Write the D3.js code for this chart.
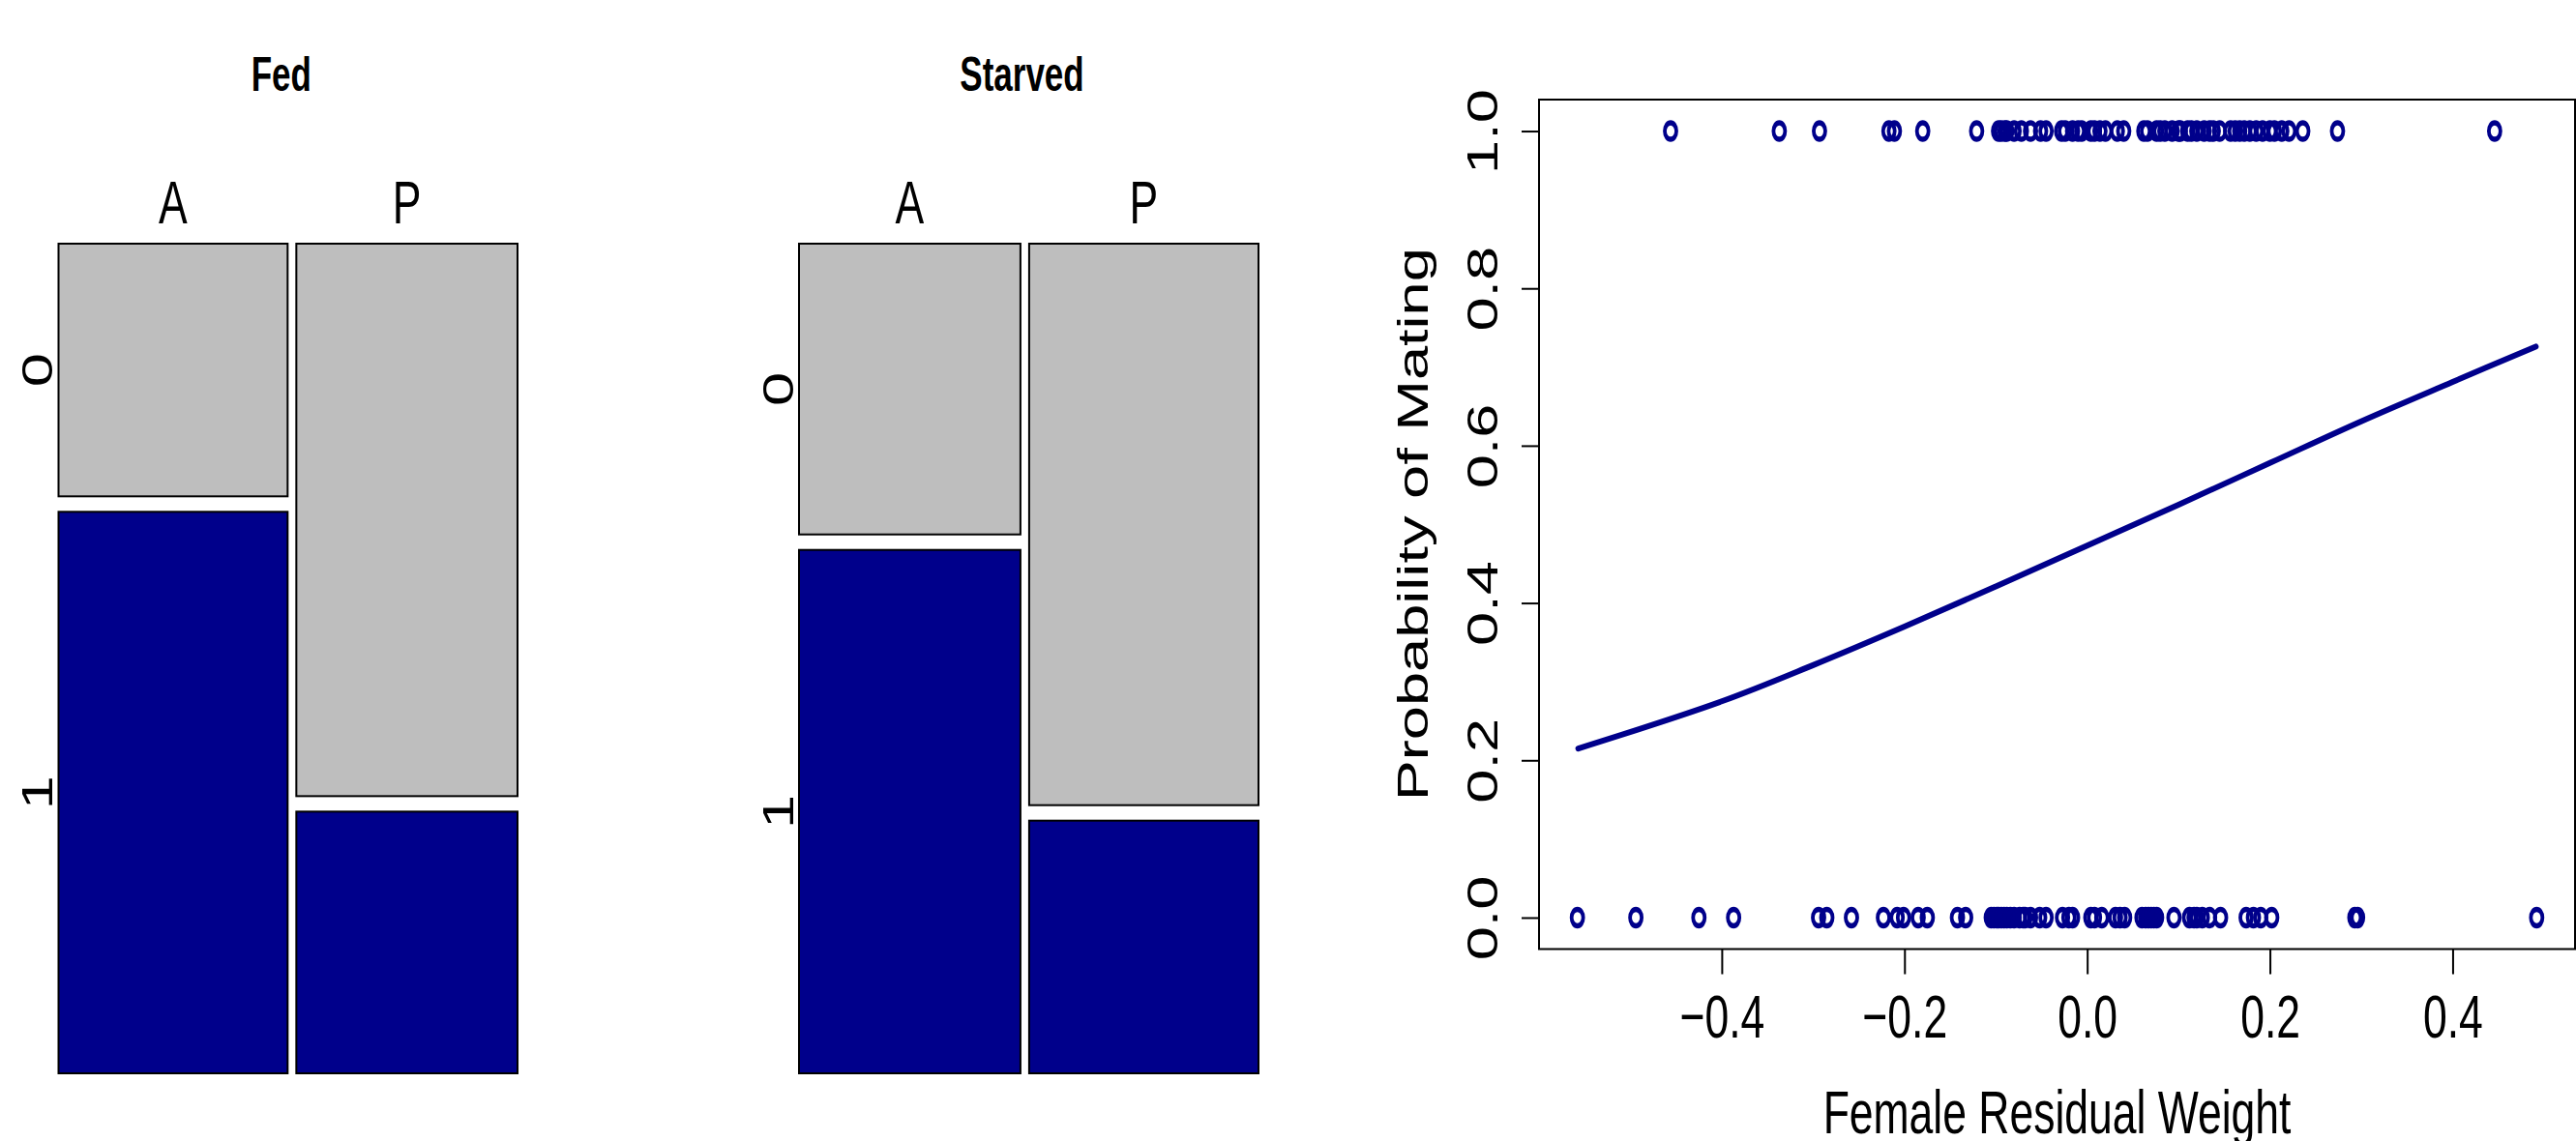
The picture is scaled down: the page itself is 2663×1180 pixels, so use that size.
<!DOCTYPE html>
<html>
<head>
<meta charset="utf-8">
<script src="https://cdn.jsdelivr.net/npm/d3@7"></script>
<style>
  body { margin: 0; background: #fff; }
  svg { display: block; }
  text { font-family: "Liberation Sans", Arial, Helvetica, sans-serif; fill: #000; }
</style>
</head>
<body>
<svg id="chart"></svg>
<script>
// ---- data ----
const panelTitles = ["Fed", "Starved"];
const morphs = ["A", "P"];
const matedLevels = ["0", "1"];
// counts[morph][mated level]
const fedCounts = [[9, 20], [19, 9]];
const starvedCounts = [[10, 18], [20, 9]];

// female residual weight of mated (1) and unmated (0) females
const weightMated = [-0.456, -0.337, -0.293, -0.217, -0.211, -0.180, -0.121, -0.097, -0.094, -0.090,
  -0.088, -0.080, -0.072, -0.062, -0.051, -0.045, -0.028, -0.024, -0.016, -0.010, -0.006, 0.004,
  0.008, 0.014, 0.020, 0.033, 0.040, 0.062, 0.066, 0.076, 0.080, 0.085, 0.093, 0.100, 0.102, 0.110,
  0.114, 0.120, 0.128, 0.134, 0.138, 0.145, 0.157, 0.162, 0.167, 0.172, 0.178, 0.185, 0.192, 0.200,
  0.205, 0.213, 0.221, 0.236, 0.274, 0.446];
const weightUnmated = [-0.558, -0.494, -0.425, -0.387, -0.294, -0.285, -0.258, -0.223, -0.208, -0.201,
  -0.185, -0.175, -0.142, -0.133, -0.105, -0.102, -0.099, -0.097, -0.094, -0.091, -0.088, -0.084,
  -0.080, -0.074, -0.070, -0.068, -0.062, -0.052, -0.045, -0.027, -0.020, -0.016, 0.004, 0.008, 0.016,
  0.031, 0.036, 0.041, 0.060, 0.064, 0.067, 0.070, 0.073, 0.076, 0.095, 0.112, 0.117, 0.120, 0.126,
  0.134, 0.146, 0.174, 0.182, 0.190, 0.202, 0.293, 0.296, 0.492];

// fitted probability curve
const curveWeight = [-0.557, -0.4, -0.3, -0.2, -0.1, 0, 0.1, 0.2, 0.3, 0.4, 0.491];
const curveProb = [0.215, 0.275, 0.321, 0.370, 0.421, 0.473, 0.525, 0.578, 0.631, 0.681, 0.726];

const xTicks = [-0.4, -0.2, 0, 0.2, 0.4];
const yTicks = [0, 0.2, 0.4, 0.6, 0.8, 1];

// ---- layout ----
const width = 2663, height = 1180;
const stretch = 1.42;   // the original picture is taller than wide
const grey = "#BEBEBE", navy = "#00008B";

const svg = d3.select("#chart").attr("width", width).attr("height", height);

function label(g, str, x, y, size, opts = {}) {
  const rot = opts.rotate ? " rotate(-90)" : "";
  return g.append("text")
    .attr("transform", `translate(${x},${y}) scale(1,${stretch})${rot}`)
    .attr("text-anchor", opts.anchor || "middle")
    .attr("font-size", size)
    .attr("font-weight", opts.bold ? "bold" : null)
    .text(str);
}

// ---- mosaic plots ----
const mosaicBoxes = [{x0: 60.5, x1: 535}, {x0: 826, x1: 1301}];
const mosaicTop = 252, mosaicBottom = 1110;
const gapX = 9, gapY = 16;

function drawMosaic(counts, box, title) {
  const g = svg.append("g");
  const colTotals = counts.map(d => d3.sum(d));
  const x = d3.scaleLinear()
    .domain([0, d3.sum(colTotals)])
    .range([0, box.x1 - box.x0 - gapX * (counts.length - 1)]);

  label(g, title, (box.x0 + box.x1) / 2 - 7, 94, 35, {bold: true});

  let cum = 0;
  counts.forEach((col, i) => {
    const left = box.x0 + x(cum) + i * gapX;
    const w = x(colTotals[i]);
    cum += colTotals[i];
    const y = d3.scaleLinear()
      .domain([0, colTotals[i]])
      .range([0, mosaicBottom - mosaicTop - gapY * (col.length - 1)]);
    let c2 = 0;
    col.forEach((n, j) => {
      const top = mosaicTop + y(c2) + j * gapY;
      const h = y(n);
      c2 += n;
      g.append("rect")
        .attr("x", left).attr("y", top)
        .attr("width", w).attr("height", h)
        .attr("fill", j === 0 ? grey : navy)
        .attr("stroke", "#000")
        .attr("stroke-width", 2);
      if (i === 0) label(g, matedLevels[j], box.x0 - 6.5, top + h / 2, 44.5, {rotate: true});
    });
    label(g, morphs[i], left + w / 2, 231, 44.5);
  });
}

drawMosaic(fedCounts, mosaicBoxes[0], panelTitles[0]);
drawMosaic(starvedCounts, mosaicBoxes[1], panelTitles[1]);

// ---- scatter with fitted curve ----
const plot = {left: 1591, right: 2662, top: 103, bottom: 981.5};
const allWeights = weightMated.concat(weightUnmated);
const [wMin, wMax] = d3.extent(allWeights);
const pad = 0.04 * (wMax - wMin);
const x = d3.scaleLinear().domain([wMin - pad, wMax + pad]).range([plot.left, plot.right]);
const y = d3.scaleLinear().domain([-0.04, 1.04]).range([plot.bottom, plot.top]);

const sg = svg.append("g");

const points = weightMated.map(w => ({w, m: 1})).concat(weightUnmated.map(w => ({w, m: 0})));
sg.selectAll("circle.pt")
  .data(points)
  .enter().append("circle")
  .attr("class", "pt")
  .attr("r", 6)
  .attr("transform", d => `translate(${x(d.w)},${y(d.m)}) scale(1,${stretch})`)
  .attr("fill", "none")
  .attr("stroke", navy)
  .attr("stroke-width", 3.8);

const line = d3.line()
  .x((d, i) => x(curveWeight[i]))
  .y(d => y(d))
  .curve(d3.curveCatmullRom);

sg.append("path")
  .datum(curveProb)
  .attr("d", line)
  .attr("fill", "none")
  .attr("stroke", navy)
  .attr("stroke-width", 6)
  .attr("stroke-linecap", "round");

// axes
const fmt = d3.format(".1f");
const xAxis = sg.append("g")
  .attr("transform", `translate(0,${plot.bottom})`)
  .call(d3.axisBottom(x).tickValues(xTicks).tickSize(26).tickFormat(fmt));
const yAxis = sg.append("g")
  .attr("transform", `translate(${plot.left},0)`)
  .call(d3.axisLeft(y).tickValues(yTicks).tickSize(18).tickFormat(fmt));

[xAxis, yAxis].forEach(a => {
  a.select(".domain").remove();
  a.selectAll(".tick line").attr("stroke", "#000").attr("stroke-width", 2);
  a.attr("font-size", null).attr("font-family", null);
});
xAxis.selectAll(".tick text")
  .attr("x", null).attr("y", null).attr("dy", null)
  .attr("font-size", 44.5)
  .attr("transform", `translate(0,91.5) scale(1,${stretch})`);
yAxis.selectAll(".tick text")
  .attr("x", null).attr("y", null).attr("dy", null)
  .attr("font-size", 44.5)
  .attr("text-anchor", "middle")
  .attr("transform", `translate(-43,0) scale(1,${stretch}) rotate(-90)`);

sg.append("rect")
  .attr("x", plot.left).attr("y", plot.top)
  .attr("width", plot.right - plot.left).attr("height", plot.bottom - plot.top)
  .attr("fill", "none")
  .attr("stroke", "#000")
  .attr("stroke-width", 2);

label(sg, "Female Residual Weight", (plot.left + plot.right) / 2, 1172, 44.5);
label(sg, "Probability of Mating", 1476, (plot.top + plot.bottom) / 2, 44.5, {rotate: true});
</script>
</body>
</html>
